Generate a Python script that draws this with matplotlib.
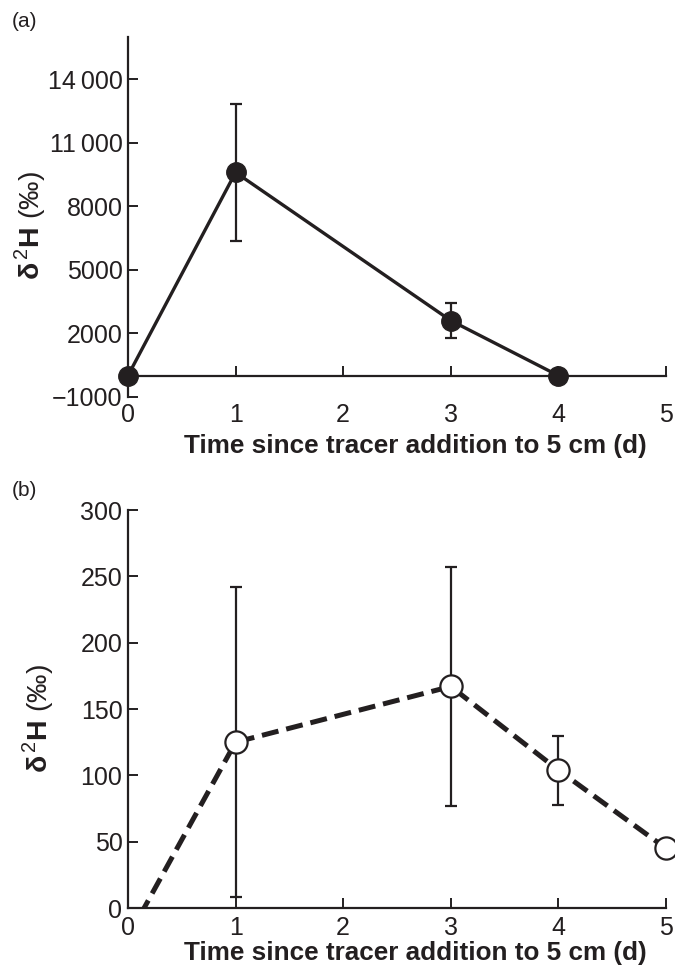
import matplotlib
matplotlib.use('Agg')
import matplotlib.pyplot as plt

plt.rcParams['font.family'] = ['Liberation Sans', 'DejaVu Sans']
plt.rcParams['mathtext.fontset'] = 'custom'
plt.rcParams['mathtext.rm'] = 'Liberation Sans'
plt.rcParams['mathtext.bf'] = 'Liberation Sans:bold'

# panel (a) data
a_x = [0, 1, 3, 4]
a_y = [0, 9600, 2600, 0]
a_err = [0, 3250, 830, 0]
a_yticks = [-1000, 2000, 5000, 8000, 11000, 14000]
a_ylabels = ['\u22121000', '2000', '5000', '8000', '11\u2009000', '14\u2009000']

# panel (b) data
b_x = [0, 1, 3, 4, 5]
b_y = [-22, 125, 167, 104, 45]
b_err = [0, 117, 90, 26, 0]
b_yticks = [0, 50, 100, 150, 200, 250, 300]

xticks = [0, 1, 2, 3, 4, 5]
xlabel = 'Time since tracer addition to 5 cm (d)'
ylabel = r'$\mathbf{\delta}^{\,2}\mathbf{H}$ (' + '\u2030' + ')'

ink = '#231f20'

fig = plt.figure(figsize=(6.75, 9.66), dpi=100)
ax1 = fig.add_axes([0.1896, 0.5893, 0.797, 0.3724])
ax2 = fig.add_axes([0.1896, 0.0600, 0.797, 0.4120])


def style(ax, xpad):
    for s in ['top', 'right']:
        ax.spines[s].set_visible(False)
    for s in ['left', 'bottom']:
        ax.spines[s].set_linewidth(1.6)
        ax.spines[s].set_color(ink)
    ax.set_xlim(0, 5)
    ax.set_xticks(xticks)
    ax.tick_params(axis='both', direction='in', length=7, width=1.4, color=ink,
                   labelcolor=ink, labelsize=18)
    ax.tick_params(axis='x', pad=xpad)
    ax.tick_params(axis='y', pad=4)


# (a)
style(ax1, 19.5)
ax1.spines['bottom'].set_position(('data', 0))
ax1.set_ylim(-1000, 16000)
ax1.set_yticks(a_yticks)
ax1.set_yticklabels(a_ylabels)
ax1.errorbar(a_x, a_y, yerr=a_err, fmt='none', ecolor=ink, elinewidth=1.6,
             capsize=4.5, capthick=1.6, clip_on=False, zorder=3)
ax1.plot(a_x, a_y, '-', color=ink, lw=2.4, marker='o', ms=14,
         mfc=ink, mec=ink, clip_on=False, zorder=4)

# (b)
style(ax2, 6)
ax2.set_ylim(0, 300)
ax2.set_yticks(b_yticks)
ax2.errorbar(b_x[1:], b_y[1:], yerr=b_err[1:], fmt='none', ecolor=ink,
             elinewidth=1.6, capsize=4.5, capthick=1.6, clip_on=False, zorder=3)
ax2.plot(b_x, b_y, linestyle=(0, (3.4, 1.6)), color=ink, lw=3.6,
         dash_capstyle='butt', zorder=4)
ax2.plot(b_x[1:], b_y[1:], 'o', ms=16, mfc='white', mec=ink, mew=1.6,
         clip_on=False, zorder=5)

for ax, lx, ly, yx, yy in [(ax1, 0.535, -0.136, -0.182, 0.476),
                           (ax2, 0.535, -0.113, -0.167, 0.477)]:
    ax.set_xlabel(xlabel, fontsize=18.8, fontweight='bold', color=ink)
    ax.xaxis.set_label_coords(lx, ly)
    ax.xaxis.label.set_va('center')
    ax.set_ylabel(ylabel, fontsize=20.5, color=ink)
    ax.yaxis.set_label_coords(yx, yy)
    ax.yaxis.label.set_va('center')

fig.text(0.018, 0.978, '(a)', fontsize=15, color=ink, va='center')
fig.text(0.018, 0.492, '(b)', fontsize=15, color=ink, va='center')

fig.savefig('out.png', dpi=100)
